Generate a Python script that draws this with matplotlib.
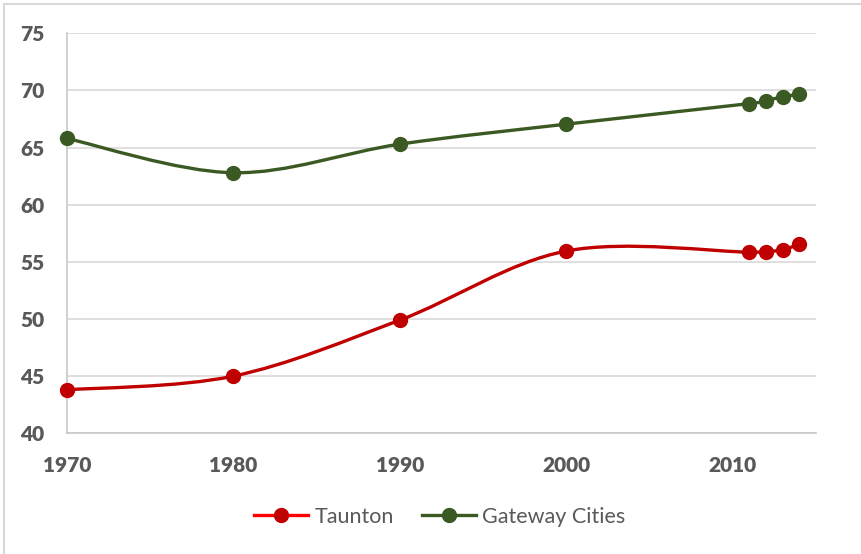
import matplotlib
matplotlib.use('Agg')
import numpy as np
import matplotlib.pyplot as plt
from matplotlib.path import Path
from matplotlib.patches import PathPatch, Rectangle
from matplotlib.lines import Line2D

years = [1970, 1980, 1990, 2000, 2011, 2012, 2013, 2014]
taunton = [43.8, 45.0, 49.9, 55.95, 55.85, 55.9, 56.05, 56.55]
gateway = [65.8, 62.8, 65.3, 67.05, 68.85, 69.1, 69.45, 69.65]
y_ticks = [40, 45, 50, 55, 60, 65, 70, 75]
x_ticks = [1970, 1980, 1990, 2000, 2010]

RED = '#C00000'
RED_LEGEND = '#FF0000'
GREEN = '#3B5A23'
TEXT = '#595959'


# excel style smoothed line: cubic bezier through the points
def smooth_path(xs, ys):
    pts = np.column_stack([xs, ys]).astype(float)
    n = len(pts)
    verts = [pts[0]]
    codes = [Path.MOVETO]
    for i in range(n - 1):
        p0 = pts[max(i - 1, 0)]
        p1 = pts[i]
        p2 = pts[i + 1]
        p3 = pts[min(i + 2, n - 1)]
        c1 = p1 + (p2 - p0) / 6.0
        c2 = p2 - (p3 - p1) / 6.0
        verts += [c1, c2, p2]
        codes += [Path.CURVE4] * 3
    return Path(verts, codes)


fig = plt.figure(figsize=(8.61, 5.54), dpi=100)
fig.patches.append(Rectangle((4 / 861, -0.1), 1.2, (550 / 554) + 0.1,
                             transform=fig.transFigure, fill=False,
                             edgecolor='#D9D9D9', lw=1.5))
ax = fig.add_axes([66.7 / 861, (554 - 433.3) / 554, (816 - 66.7) / 861, 400 / 554])

for ys, col in [(taunton, RED), (gateway, GREEN)]:
    ax.add_patch(PathPatch(smooth_path(years, ys), fill=False,
                           edgecolor=col, lw=2.4, capstyle='round', zorder=3))
    ax.plot(years, ys, 'o', color=col, ms=10, zorder=4, clip_on=False)

ax.set_xlim(1970, 2015)
ax.set_ylim(40, 75)
ax.set_yticks(y_ticks)
ax.set_xticks(x_ticks)
ax.grid(axis='y', color='#D9D9D9', lw=1.2)
ax.set_axisbelow(True)
for s in ['top', 'right']:
    ax.spines[s].set_visible(False)
for s in ['left', 'bottom']:
    ax.spines[s].set_color('#C8C8C8')
    ax.spines[s].set_linewidth(1.2)
ax.tick_params(length=0, labelsize=15, labelcolor=TEXT)
ax.tick_params(axis='y', pad=16)
ax.tick_params(axis='x', pad=16)
for lab in ax.get_xticklabels() + ax.get_yticklabels():
    lab.set_fontfamily('Lato')
    lab.set_fontweight('heavy')

handles = [
    Line2D([], [], color=RED_LEGEND, lw=2.4, marker='o', ms=10, mfc=RED, mec=RED),
    Line2D([], [], color=GREEN, lw=2.4, marker='o', ms=10, mfc=GREEN, mec=GREEN),
]
fig.legend(handles, ['Taunton', 'Gateway Cities'], loc='center',
           bbox_to_anchor=(440 / 861, 1 - 517 / 554), ncol=2, frameon=False,
           prop={'family': 'Lato', 'size': 15.5}, labelcolor=TEXT,
           handlelength=2.5, handletextpad=0.3, columnspacing=1.3)

plt.savefig('out.png', dpi=100)
